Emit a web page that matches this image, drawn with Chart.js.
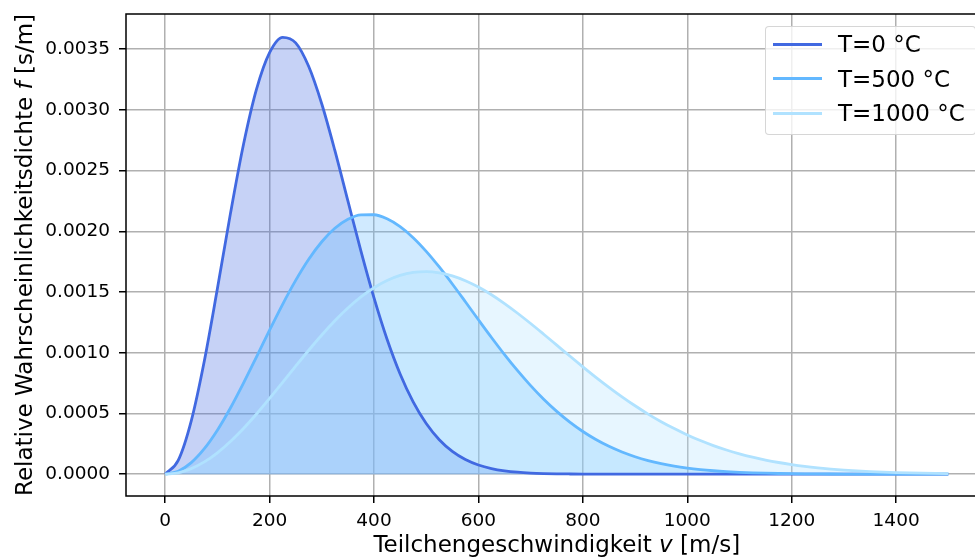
<!DOCTYPE html>
<html lang="de">
<head>
<meta charset="utf-8">
<title>Maxwell-Boltzmann-Verteilung</title>
<script src="https://cdn.jsdelivr.net/npm/chart.js@4.4.1/dist/chart.umd.min.js"></script>
<style>
  html, body { margin: 0; padding: 0; overflow: hidden; background: #fff; }
  #wrap { position: relative; width: 1000px; height: 557px; }
  #legend {
    position: absolute; left: 765px; top: 26px; width: 211px; height: 109px;
    box-sizing: border-box; border: 1px solid rgba(204,204,204,0.8); border-radius: 4px;
    background: rgba(255,255,255,0.8); font-family: 'DejaVu Sans'; font-size: 23px; color: #000;
  }
  .item { position: absolute; left: 0; height: 0; }
  .item .swatch { position: absolute; left: 7px; width: 49px; height: 3px; top: -1.5px; }
  .item span { position: absolute; left: 72px; top: 0; transform: translateY(-50%); white-space: nowrap; line-height: 1; }
</style>
</head>
<body>
<div id="wrap">
  <canvas id="chart" width="1000" height="557"></canvas>
  <div id="legend"></div>
</div>
<script>
// Geschwindigkeiten in m/s
const speeds = [
  0, 25, 50, 75, 100, 125, 150, 175, 200, 225, 250, 275, 300, 325, 350, 375,
  400, 425, 450, 475, 500, 525, 550, 575, 600, 625, 650, 675, 700, 725, 750, 775,
  800, 825, 850, 875, 900, 925, 950, 975, 1000, 1025, 1050, 1075, 1100, 1125, 1150, 1175,
  1200, 1225, 1250, 1275, 1300, 1325, 1350, 1375, 1400, 1425, 1450, 1475, 1500
];

// Wahrscheinlichkeitsdichte f in s/m
const f0 = [
  0, 0.0001138, 0.0004395, 0.0009324, 0.0015266, 0.0021458, 0.0027150, 0.0031712,
  0.0034720, 0.0035980, 0.0035521, 0.0033571, 0.0030485, 0.0026659, 0.0022504, 0.0018366,
  0.0014513, 0.0011111, 0.0008253, 0.0005952, 0.0004168, 0.0002837, 0.0001877, 0.0001209,
  0.0000757, 0.0000461, 0.0000274, 0.0000158, 0.0000089, 0.0000049, 0.0000026, 0.0000014,
  0.0000007, 0.0000003, 0.0000002, 0.0000001, 0, 0, 0, 0,
  0, 0, 0, 0, 0, 0, 0, 0,
  0, 0, 0, 0, 0, 0, 0, 0,
  0, 0, 0, 0, 0
];
const f500 = [
  0, 0.0000241, 0.0000952, 0.0002097, 0.0003621, 0.0005450, 0.0007497, 0.0009667,
  0.0011864, 0.0013991, 0.0015961, 0.0017699, 0.0019143, 0.0020249, 0.0020992, 0.0021361,
  0.0021366, 0.0021030, 0.0020384, 0.0019475, 0.0018350, 0.0017062, 0.0015661, 0.0014198,
  0.0012716, 0.0011257, 0.0009849, 0.0008522, 0.0007292, 0.0006172, 0.0005169, 0.0004283,
  0.0003513, 0.0002852, 0.0002291, 0.0001823, 0.0001436, 0.0001120, 0.0000865, 0.0000661,
  0.0000501, 0.0000376, 0.0000280, 0.0000206, 0.0000150, 0.0000108, 0.0000078, 0.0000055,
  0.0000039, 0.0000027, 0.0000019, 0.0000013, 0.0000009, 0.0000006, 0.0000004, 0.0000003,
  0.0000002, 0.0000001, 0.0000001, 0, 0
];
const f1000 = [
  0, 0.0000114, 0.0000453, 0.0001007, 0.0001759, 0.0002686, 0.0003763, 0.0004956,
  0.0006233, 0.0007557, 0.0008893, 0.0010205, 0.0011460, 0.0012627, 0.0013679, 0.0014595,
  0.0015356, 0.0015950, 0.0016370, 0.0016613, 0.0016683, 0.0016584, 0.0016330, 0.0015932,
  0.0015407, 0.0014774, 0.0014048, 0.0013253, 0.0012406, 0.0011523, 0.0010626, 0.0009728,
  0.0008842, 0.0007978, 0.0007154, 0.0006368, 0.0005632, 0.0004947, 0.0004319, 0.0003750,
  0.0003228, 0.0002765, 0.0002353, 0.0001990, 0.0001673, 0.0001399, 0.0001161, 0.0000959,
  0.0000787, 0.0000641, 0.0000520, 0.0000419, 0.0000336, 0.0000268, 0.0000213, 0.0000167,
  0.0000131, 0.0000102, 0.0000079, 0.0000061, 0.0000047
];

const seriesLabels = ['T=0 °C', 'T=500 °C', 'T=1000 °C'];
const xTicks = [0, 200, 400, 600, 800, 1000, 1200, 1400];
const yTicks = [0, 0.0005, 0.0010, 0.0015, 0.0020, 0.0025, 0.0030, 0.0035];

const xTitle = [['Teilchengeschwindigkeit ', false], ['v', true], [' [m/s]', false]];
const yTitle = [['Relative Wahrscheinlichkeitsdichte ', false], ['f', true], [' [s/m]', false]];

// Farben
const lineColors = ['#4169E1', '#63B8FF', '#B0E2FF'];
const fillColors = ['rgba(65,105,225,0.3)', 'rgba(99,184,255,0.3)', 'rgba(176,226,255,0.3)'];

const FONT = 'DejaVu Sans';
Chart.defaults.font.family = FONT;
Chart.defaults.color = '#000';

function drawMixed(ctx, parts, cx, cy, angle) {
  ctx.save();
  ctx.translate(cx, cy);
  ctx.rotate(angle);
  ctx.textBaseline = 'alphabetic';
  ctx.textAlign = 'left';
  ctx.fillStyle = '#000';
  const fonts = parts.map(p => (p[1] ? 'italic ' : '') + '23px "' + FONT + '"');
  let total = 0;
  const widths = parts.map((p, i) => {
    ctx.font = fonts[i];
    const w = ctx.measureText(p[0]).width;
    total += w;
    return w;
  });
  let x = -total / 2;
  parts.forEach((p, i) => {
    ctx.font = fonts[i];
    ctx.fillText(p[0], x, 0);
    x += widths[i];
  });
  ctx.restore();
}

// Rahmen um die Achsenfläche und Achsenbeschriftungen (mit kursiven Variablen)
const frameAndTitles = {
  id: 'frameAndTitles',
  afterDraw(chart) {
    const { ctx, chartArea: a } = chart;
    ctx.save();
    ctx.strokeStyle = '#000';
    ctx.lineWidth = 1.5;
    ctx.strokeRect(a.left, a.top, a.right - a.left, a.bottom - a.top);
    ctx.restore();
    drawMixed(ctx, xTitle, (a.left + a.right) / 2, chart.height - 5, 0);
    drawMixed(ctx, yTitle, a.left - 94, (a.top + a.bottom) / 2, -Math.PI / 2);
  }
};

const seriesValues = [f0, f500, f1000];
const datasets = seriesValues.map((vals, i) => ({
  label: seriesLabels[i],
  data: speeds.map((v, j) => ({ x: v, y: vals[j] })),
  borderColor: lineColors[i],
  backgroundColor: fillColors[i],
  borderWidth: 2.8,
  pointRadius: 0,
  fill: 'origin',
  cubicInterpolationMode: 'monotone',
  order: 3 - i
}));

const gridOpts = { color: '#b0b0b0', lineWidth: 1.5, tickColor: '#000', tickLength: 7, tickWidth: 1.5 };
const tickFont = { family: FONT, size: 18.5 };

const chart = new Chart(document.getElementById('chart').getContext('2d'), {
  type: 'line',
  data: { datasets },
  options: {
    responsive: false,
    animation: false,
    events: [],
    layout: { padding: { top: 14, right: 12.5, left: 0, bottom: 0 } },
    plugins: {
      legend: { display: false },
      tooltip: { enabled: false },
      // alle Flächen unter die Linien
      filler: { drawTime: 'beforeDatasetsDraw' }
    },
    scales: {
      x: {
        type: 'linear', min: -75, max: 1575,
        afterBuildTicks: s => { s.ticks = xTicks.map(v => ({ value: v })); },
        afterFit: s => { s.height = 61; s.paddingLeft = 0; s.paddingRight = 0; },
        grid: gridOpts,
        border: { display: false },
        ticks: { font: tickFont, color: '#000', padding: 7, maxRotation: 0, autoSkip: false, callback: v => String(v) }
      },
      y: {
        type: 'linear', min: -0.00018, max: 0.00379,
        afterBuildTicks: s => { s.ticks = yTicks.map(v => ({ value: v })); },
        afterFit: s => { s.width = 126; s.paddingTop = 0; s.paddingBottom = 0; },
        grid: gridOpts,
        border: { display: false },
        ticks: { font: tickFont, color: '#000', padding: 9, autoSkip: false, callback: v => v.toFixed(4) }
      }
    }
  },
  plugins: [frameAndTitles]
});

// Legende oben rechts
const legend = document.getElementById('legend');
chart.data.datasets.forEach((ds, i) => {
  const row = document.createElement('div');
  row.className = 'item';
  row.style.top = (17 + i * 34.5) + 'px';
  row.innerHTML = `<div class="swatch" style="background:${ds.borderColor}"></div><span>${ds.label}</span>`;
  legend.appendChild(row);
});
</script>
</body>
</html>
